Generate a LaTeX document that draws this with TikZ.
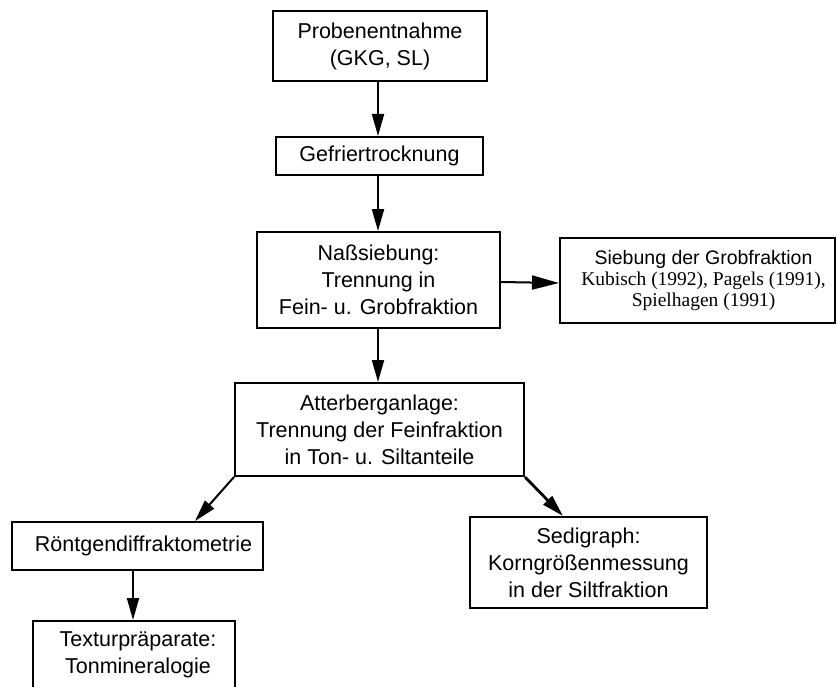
\documentclass[tikz,border=0pt]{standalone}
\usepackage{fontspec}
\setmainfont{Liberation Sans}
\newfontfamily\refserif{Liberation Serif}
\usetikzlibrary{arrows.meta}
\tikzset{
  box/.style={draw, line width=2pt, align=center, inner sep=0pt,
    font=\fontsize{21.5}{27}\selectfont},
  conn/.style={line width=2pt, -{Triangle[length=22pt,width=12pt]}},
}
\begin{document}
\begin{tikzpicture}[x=1pt,y=-1pt]
\useasboundingbox (0,0) rectangle (837,687);
\node[box, minimum width=214pt, minimum height=70pt] (A) at (380,46) {Probenentnahme\\(GKG, SL)};
\node[box, minimum width=207pt, minimum height=38pt] (B) at (379.5,156) {Gefriertrocknung};
\node[box, minimum width=243pt, minimum height=96pt] (C) at (378.5,280) {Naßsiebung:\\Trennung in\\Fein- u. Grobfraktion};
\node[box, minimum width=275pt, minimum height=85pt, font=\fontsize{19.5}{21}\selectfont] (D) at (697.5,280.5)
  {\hspace*{12pt}Siebung der Grobfraktion\\\hspace*{12pt}{\refserif Kubisch (1992), Pagels (1991),}\\\hspace*{12pt}{\refserif Spielhagen (1991)}};
\node[box, minimum width=289pt, minimum height=93pt] (E) at (379.5,429.5) {Atterberganlage:\\Trennung der Feinfraktion\\in Ton- u. Siltanteile};
\node[box, minimum width=251pt, minimum height=48pt] (F) at (137.5,546) {\hspace*{12pt}Röntgendiffraktometrie};
\node[box, minimum width=202pt, minimum height=68pt] (G) at (134,655) {\hspace*{8pt}Texturpräparate:\\\hspace*{8pt}Tonmineralogie};
\node[box, minimum width=237pt, minimum height=91pt] (H) at (588.5,562.5) {Sedigraph:\\Korngrößenmessung\\in der Siltfraktion};
\draw[conn] ([xshift=-2pt]A.south) -- ([xshift=-1.5pt]B.north);
\draw[conn] ([xshift=-1.5pt]B.south) -- ([xshift=-0.5pt]C.north);
\draw[conn, -{Triangle[length=27pt,width=14pt]}] ([yshift=-2pt]C.east) -- ([yshift=-2.5pt]D.west);
\draw[conn] ([xshift=-0.5pt]C.south) -- ([xshift=-1.5pt]E.north);
\draw[conn] (E.south west) -- ([xshift=57.5pt]F.north);
\draw[conn, line width=2.8pt] (E.south east) -- ([xshift=-25.5pt]H.north);
\draw[conn] ([xshift=-4.5pt]F.south) -- ([xshift=-1pt]G.north);
\end{tikzpicture}
\end{document}
